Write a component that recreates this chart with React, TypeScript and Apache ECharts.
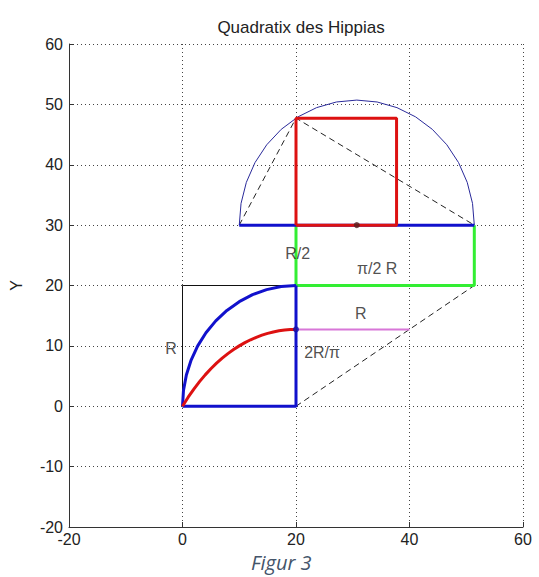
import React, { useEffect, useRef } from "react";
import * as echarts from "echarts";

const xTicks = [-20, 0, 20, 40, 60];
const yTicks = [-20, -10, 0, 10, 20, 30, 40, 50, 60];

// thin black frame of the quadrant (square side R)
const frameBlack = [[0, 0], [0, 20], [20, 20]];
// thick blue sides of the square
const squareBlue = [[0, 0], [20, 0], [20, 20]];
// blue quarter circle
const quarterCircle = [
  [0, 0], [0.171, 2.611], [0.681, 5.176], [1.522, 7.654], [2.679, 10], [4.133, 12.175],
  [5.858, 14.142], [7.825, 15.867], [10, 17.321], [12.346, 18.478], [14.824, 19.319],
  [17.389, 19.829], [20, 20],
];
// red quadratrix
const quadratrix = [
  [0, 0], [1, 1.495], [2, 2.851], [3, 4.081], [4, 5.199], [5, 6.213], [6, 7.133], [7, 7.966],
  [8, 8.718], [9, 9.395], [10, 10], [11, 10.538], [12, 11.011], [13, 11.423], [14, 11.776],
  [15, 12.071], [16, 12.311], [17, 12.496], [18, 12.628], [19, 12.706], [20, 12.732],
];
// magenta segment of length R
const magentaR = [[20, 12.732], [40, 12.732]];
// dashed ray
const dashedRay = [[20, 0], [51.42, 20]];
// green rectangle (pi/2 R x R/2)
const greenRect = [[20, 30], [20, 20], [51.42, 20], [51.42, 30]];
// blue diameter
const diameter = [[10, 30], [51.42, 30]];
// thin semicircle
const semicircle = [
  [10, 30], [10.315, 33.596], [11.249, 37.083], [12.775, 40.355], [14.845, 43.312],
  [17.398, 45.865], [20.355, 47.935], [23.627, 49.461], [27.114, 50.395], [30.71, 50.71],
  [34.306, 50.395], [37.793, 49.461], [41.065, 47.935], [44.022, 45.865], [46.575, 43.312],
  [48.645, 40.355], [50.171, 37.083], [51.105, 33.596], [51.42, 30],
];
// dashed triangle in semicircle
const dashedTriangle = [[10, 30], [20, 47.72], [51.42, 30]];
// red square
const redSquare = [[20, 30], [20, 47.72], [37.72, 47.72], [37.72, 30], [20, 30]];
// points
const bluePoint = [[20, 12.732]];
const centerPoint = [[30.71, 30]];
// labels
const labelTexts = ["R", "2R/π", "R/2", "π/2 R", "R"];
const labelPos = [[-2, 9.6], [24.6, 8.9], [20.3, 25.3], [34.3, 22.8], [31.4, 15.4]];

const FONT = "'Liberation Sans', Arial, sans-serif";

export default function App() {
  const ref = useRef<HTMLDivElement>(null);
  useEffect(() => {
    document.body.style.margin = "0";
    const chart = echarts.init(ref.current!, null, { renderer: "svg" });
    const line = (data: number[][], color: string, width: number, type: any = "solid", z = 2) => ({
      type: "line",
      data,
      showSymbol: false,
      symbol: "none",
      lineStyle: { color, width, type },
      z,
      silent: true,
    });
    chart.setOption({
      animation: false,
      backgroundColor: "#ffffff",
      title: {
        text: "Quadratix des Hippias",
        left: 296,
        top: 14,
        textAlign: "center",
        textStyle: { fontFamily: FONT, fontSize: 17, fontWeight: "normal", color: "#222" },
      },
      grid: { left: 67, right: 16, top: 44, bottom: 50 },
      xAxis: {
        type: "value",
        min: -20,
        max: 60,
        interval: 20,
        axisLine: { show: true, onZero: false, lineStyle: { color: "#333", width: 1 } },
        axisTick: { show: true, inside: true, length: 5, lineStyle: { color: "#333" } },
        axisLabel: {
          fontFamily: FONT, fontSize: 16, color: "#222", margin: 4,
          formatter: (v: number) => (xTicks.includes(v) ? String(v) : ""),
        },
        splitLine: { show: true, lineStyle: { color: "#444", type: [1, 3], width: 1 } },
      },
      yAxis: {
        type: "value",
        min: -20,
        max: 60,
        interval: 10,
        name: "Y",
        nameLocation: "middle",
        nameGap: 45,
        nameTextStyle: { fontFamily: FONT, fontSize: 16, color: "#222" },
        axisLine: { show: true, onZero: false, lineStyle: { color: "#333", width: 1 } },
        axisTick: { show: true, inside: true, length: 5, lineStyle: { color: "#333" } },
        axisLabel: {
          fontFamily: FONT, fontSize: 16, color: "#222", margin: 6,
          formatter: (v: number) => (yTicks.includes(v) ? String(v) : ""),
        },
        splitLine: { show: true, lineStyle: { color: "#444", type: [1, 3], width: 1 } },
      },
      graphic: [
        {
          type: "text",
          left: 251,
          top: 552,
          style: {
            text: "Figur 3",
            font: "italic 20px 'Open Sans', Lato, sans-serif",
            fill: "#44546a",
          },
        },
      ],
      series: [
        line(frameBlack, "#111", 1),
        line(dashedRay, "#222", 1, [6, 4]),
        line(dashedTriangle, "#222", 1, [6, 4]),
        line(semicircle, "#2a2a9a", 1),
        line(magentaR, "#d877d8", 2),
        line(greenRect, "#33ee33", 3),
        line(squareBlue, "#1111cc", 3),
        line(quarterCircle, "#1111cc", 3),
        line(quadratrix, "#dd1111", 3, "solid", 3),
        line(diameter, "#1111cc", 3),
        line(redSquare, "#dd1111", 3, "solid", 4),
        {
          type: "scatter",
          data: bluePoint,
          symbol: "circle",
          symbolSize: 6,
          itemStyle: { color: "#1111aa" },
          z: 5,
          silent: true,
        },
        {
          type: "scatter",
          data: centerPoint,
          symbol: "circle",
          symbolSize: 6,
          itemStyle: { color: "#552222" },
          z: 5,
          silent: true,
        },
        {
          type: "scatter",
          data: labelPos.map((p, i) => ({ value: p, name: labelTexts[i] })),
          symbolSize: 0,
          silent: true,
          z: 6,
          label: {
            show: true,
            position: "inside",
            formatter: (p: any) => p.name,
            fontFamily: FONT,
            fontSize: 16,
            color: "#222",
          },
        },
      ],
    });
    return () => chart.dispose();
  }, []);
  return <div ref={ref} style={{ width: 539, height: 577 }} />;
}
